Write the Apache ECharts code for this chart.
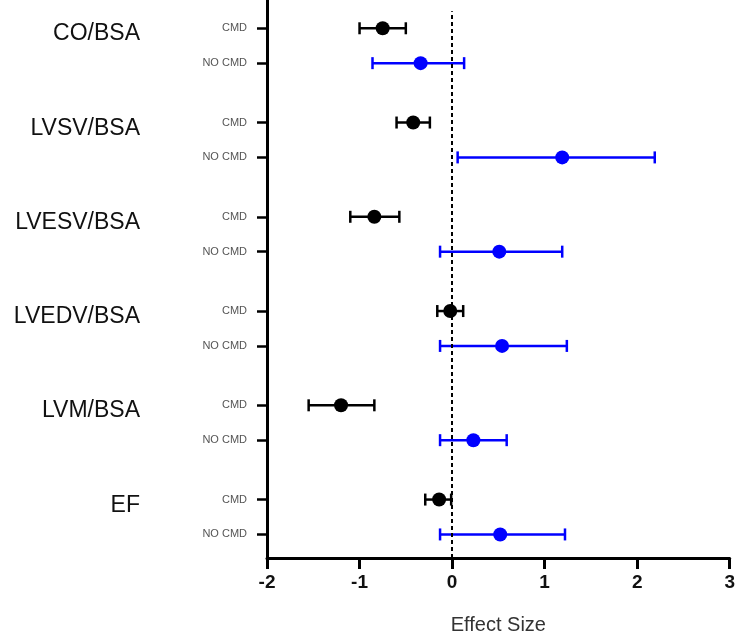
<!DOCTYPE html>
<html>
<head>
<meta charset="utf-8">
<script src="https://cdn.jsdelivr.net/npm/echarts@6/dist/echarts.min.js"></script>
<style>html,body{margin:0;padding:0;background:#fff}#c{width:738px;height:640px}</style>
</head>
<body>
<div id="c"></div>
<script>
const groups = ['CO/BSA', 'LVSV/BSA', 'LVESV/BSA', 'LVEDV/BSA', 'LVM/BSA', 'EF'];
const rowLabels = ['CMD', 'NO CMD'];
const cmdMean = [-0.75, -0.42, -0.84, -0.02, -1.20, -0.14];
const cmdLow  = [-1.00, -0.60, -1.10, -0.16, -1.55, -0.29];
const cmdHigh = [-0.50, -0.24, -0.57, 0.12, -0.84, -0.01];
const noMean  = [-0.34, 1.19, 0.51, 0.54, 0.23, 0.52];
const noLow   = [-0.86, 0.06, -0.13, -0.13, -0.13, -0.13];
const noHigh  = [0.13, 2.19, 1.19, 1.24, 0.59, 1.22];
const xTicks = [-2, -1, 0, 1, 2, 3];

const n = groups.length;
const CMD_OFF = 0.62, NO_OFF = 0.25, LABEL_OFF = 0.56;
const yCmd = groups.map((g, i) => +(n - 1 - i + CMD_OFF).toFixed(2));
const yNo = groups.map((g, i) => +(n - 1 - i + NO_OFF).toFixed(2));
const yGrp = groups.map((g, i) => +(n - 1 - i + LABEL_OFF).toFixed(2));

const rowMap = {};
yCmd.forEach(v => rowMap[Math.round(v * 100)] = rowLabels[0]);
yNo.forEach(v => rowMap[Math.round(v * 100)] = rowLabels[1]);
const grpMap = {};
yGrp.forEach((v, i) => grpMap[Math.round(v * 100)] = groups[i]);

const cmdBars = groups.map((g, i) => [cmdLow[i], cmdHigh[i], yCmd[i]]);
const noBars = groups.map((g, i) => [noLow[i], noHigh[i], yNo[i]]);
const cmdPts = groups.map((g, i) => [cmdMean[i], yCmd[i]]);
const noPts = groups.map((g, i) => [noMean[i], yNo[i]]);

function errRender(color, width) {
  return function (params, api) {
    const lo = api.coord([api.value(0), api.value(2)]);
    const hi = api.coord([api.value(1), api.value(2)]);
    const h = 6;
    const style = { stroke: color, lineWidth: width };
    return {
      type: 'group',
      children: [
        { type: 'line', shape: { x1: lo[0], y1: lo[1], x2: hi[0], y2: hi[1] }, style },
        { type: 'line', shape: { x1: lo[0], y1: lo[1] - h, x2: lo[0], y2: lo[1] + h }, style },
        { type: 'line', shape: { x1: hi[0], y1: hi[1] - h, x2: hi[0], y2: hi[1] + h }, style }
      ]
    };
  };
}

const YMAX = 5.92;
const chart = echarts.init(document.getElementById('c'));
chart.setOption({
  animation: false,
  grid: { left: 267, right: 5, top: 0, bottom: 79 },
  xAxis: {
    type: 'value', min: -2, max: 3, interval: 1,
    name: 'Effect Size', nameLocation: 'middle', nameGap: 57,
    nameTextStyle: { fontSize: 20, color: '#333', fontFamily: 'Liberation Sans' },
    axisLine: { onZero: false, lineStyle: { color: '#000', width: 3 } },
    axisTick: { show: true, length: 11, lineStyle: { color: '#000', width: 3 } },
    axisLabel: { fontSize: 19, fontWeight: 'bold', color: '#111', margin: 15, fontFamily: 'Liberation Sans Narrow, Liberation Sans',
      formatter: v => xTicks.indexOf(v) >= 0 ? String(v) : '' },
    splitLine: { show: false }
  },
  yAxis: [{
    type: 'value', min: 0, max: YMAX,
    axisLine: { show: true, onZero: false, lineStyle: { color: '#000', width: 3 } },
    axisTick: { show: true, length: 10, customValues: yCmd.concat(yNo), lineStyle: { color: '#000', width: 2.5 } },
    axisLabel: { customValues: yCmd.concat(yNo), fontSize: 11, color: '#555', margin: 20, fontFamily: 'Liberation Sans',
      formatter: v => rowMap[Math.round(v * 100)] || '' },
    splitLine: { show: false }
  }, {
    type: 'value', min: 0, max: YMAX, position: 'left',
    axisLine: { show: false, onZero: false }, axisTick: { show: false },
    axisLabel: { customValues: yGrp, fontSize: 23, color: '#111', margin: 127, fontFamily: 'Liberation Sans',
      formatter: v => grpMap[Math.round(v * 100)] || '' },
    splitLine: { show: false }
  }],
  series: [
    { type: 'custom', renderItem: errRender('#000', 2.5), data: cmdBars, encode: { x: [0, 1], y: 2 }, z: 2 },
    { type: 'custom', renderItem: errRender('#0000ff', 2.5), data: noBars, encode: { x: [0, 1], y: 2 }, z: 2 },
    { type: 'scatter', data: cmdPts, symbolSize: 14, itemStyle: { color: '#000', opacity: 1 }, z: 3 },
    { type: 'scatter', data: noPts, symbolSize: 14, itemStyle: { color: '#0000ff', opacity: 1 }, z: 3,
      markLine: { silent: true, symbol: 'none', label: { show: false }, z: 10,
        lineStyle: { color: '#000', width: 2, type: [4, 3] },
        data: [[{ coord: [0, 0] }, { coord: [0, 5.8] }]] } }
  ]
});
</script>
</body>
</html>
